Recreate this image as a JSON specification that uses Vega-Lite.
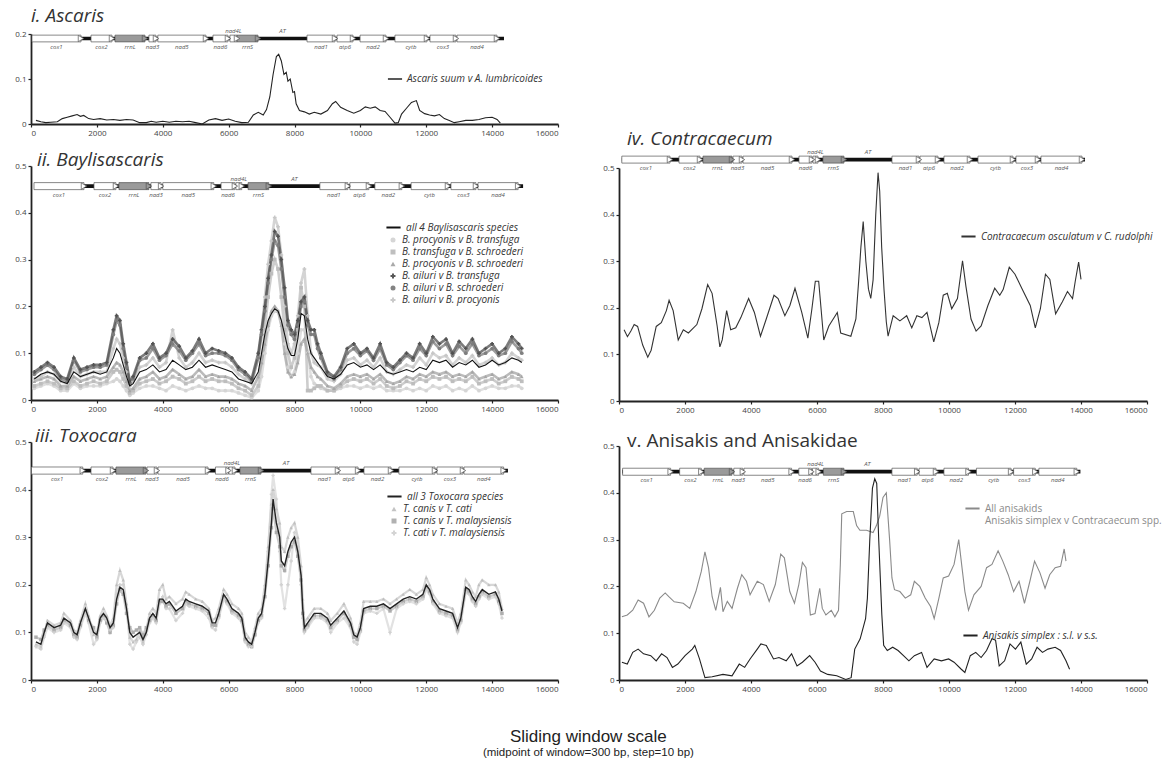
{
"$schema":"https://vega.github.io/schema/vega-lite/v6.json",
"background":"white",
"padding":{"left":14,"top":7,"right":5,"bottom":5},
"title":{"text":"Sliding window scale","subtitle":"(midpoint of window=300 bp, step=10 bp)","orient":"bottom","anchor":"middle","font":"Liberation Sans","fontSize":17,"fontStyle":"normal","fontWeight":"normal","color":"#222","subtitleFont":"Liberation Sans","subtitleFontSize":11.5,"subtitleColor":"#222","subtitlePadding":1,"offset":36,"frame":"bounds"},
"datasets":{
"gi":[{"g":"","s":30,"e":14360,"m":0,"t":"b"},{"g":"cox1","s":30,"e":1518,"m":774,"t":"p"},{"g":"cox2","s":1822,"e":2459,"m":2140,"t":"p"},{"g":"rrnL","s":2550,"e":3461,"m":3005,"t":"r"},{"g":"nad3","s":3580,"e":3795,"m":3690,"t":"p"},{"g":"nad5","s":3850,"e":5313,"m":4580,"t":"p"},{"g":"nad6","s":5525,"e":5980,"m":5750,"t":"p"},{"g":"nad4L","s":6040,"e":6254,"m":6147,"t":"p"},{"g":"rrnS","s":6254,"e":6892,"m":6573,"t":"r"},{"g":"AT","s":6892,"e":8380,"m":7636,"t":"a"},{"g":"nad1","s":8380,"e":9230,"m":8805,"t":"p"},{"g":"atp6","s":9290,"e":9776,"m":9533,"t":"p"},{"g":"nad2","s":9990,"e":10778,"m":10384,"t":"p"},{"g":"cytb","s":11050,"e":12022,"m":11536,"t":"p"},{"g":"cox3","s":12113,"e":12903,"m":12508,"t":"p"},{"g":"nad4","s":12933,"e":14147,"m":13540,"t":"p"}],
"gii":[{"g":"","s":91,"e":14940,"m":0,"t":"b"},{"g":"cox1","s":91,"e":1609,"m":850,"t":"p"},{"g":"cox2","s":1912,"e":2580,"m":2246,"t":"p"},{"g":"rrnL","s":2670,"e":3580,"m":3125,"t":"r"},{"g":"nad3","s":3640,"e":3950,"m":3795,"t":"p"},{"g":"nad5","s":4000,"e":5550,"m":4775,"t":"p"},{"g":"nad6","s":5770,"e":6190,"m":5980,"t":"p"},{"g":"nad4L","s":6220,"e":6400,"m":6310,"t":"p"},{"g":"rrnS","s":6590,"e":7220,"m":6905,"t":"r"},{"g":"AT","s":7220,"e":8770,"m":7995,"t":"a"},{"g":"nad1","s":8770,"e":9620,"m":9195,"t":"p"},{"g":"atp6","s":9680,"e":10260,"m":9970,"t":"p"},{"g":"nad2","s":10440,"e":11260,"m":10850,"t":"p"},{"g":"cytb","s":11540,"e":12660,"m":12100,"t":"p"},{"g":"cox3","s":12750,"e":13510,"m":13130,"t":"p"},{"g":"nad4","s":13570,"e":14790,"m":14180,"t":"p"}],
"giii":[{"g":"","s":15,"e":14480,"m":0,"t":"b"},{"g":"cox1","s":15,"e":1572,"m":793,"t":"p"},{"g":"cox2","s":1822,"e":2490,"m":2156,"t":"p"},{"g":"rrnL","s":2580,"e":3490,"m":3035,"t":"r"},{"g":"nad3","s":3520,"e":3825,"m":3672,"t":"p"},{"g":"nad5","s":3855,"e":5374,"m":4615,"t":"p"},{"g":"nad6","s":5600,"e":5996,"m":5798,"t":"p"},{"g":"nad4L","s":6010,"e":6193,"m":6100,"t":"p"},{"g":"rrnS","s":6345,"e":6983,"m":6664,"t":"r"},{"g":"AT","s":6983,"e":8500,"m":7740,"t":"a"},{"g":"nad1","s":8500,"e":9320,"m":8910,"t":"p"},{"g":"atp6","s":9350,"e":9930,"m":9640,"t":"p"},{"g":"nad2","s":10110,"e":10930,"m":10520,"t":"p"},{"g":"cytb","s":11170,"e":12265,"m":11718,"t":"p"},{"g":"cox3","s":12326,"e":13115,"m":12720,"t":"p"},{"g":"nad4","s":13145,"e":14350,"m":13748,"t":"p"}],
"giv":[{"g":"","s":85,"e":14120,"m":0,"t":"b"},{"g":"cox1","s":85,"e":1545,"m":815,"t":"p"},{"g":"cox2","s":1818,"e":2455,"m":2136,"t":"p"},{"g":"rrnL","s":2545,"e":3424,"m":2985,"t":"r"},{"g":"nad3","s":3454,"e":3727,"m":3590,"t":"p"},{"g":"nad5","s":3757,"e":5242,"m":4500,"t":"p"},{"g":"nad6","s":5454,"e":5848,"m":5651,"t":"p"},{"g":"nad4L","s":5878,"e":6030,"m":5954,"t":"p"},{"g":"rrnS","s":6181,"e":6817,"m":6499,"t":"r"},{"g":"AT","s":6817,"e":8272,"m":7545,"t":"a"},{"g":"nad1","s":8272,"e":9090,"m":8681,"t":"p"},{"g":"atp6","s":9120,"e":9666,"m":9393,"t":"p"},{"g":"nad2","s":9848,"e":10636,"m":10242,"t":"p"},{"g":"cytb","s":10878,"e":11938,"m":11408,"t":"p"},{"g":"cox3","s":12029,"e":12696,"m":12362,"t":"p"},{"g":"nad4","s":12787,"e":14030,"m":13408,"t":"p"}],
"gv":[{"g":"","s":91,"e":13982,"m":0,"t":"b"},{"g":"cox1","s":109,"e":1565,"m":837,"t":"p"},{"g":"cox2","s":1838,"e":2494,"m":2166,"t":"p"},{"g":"rrnL","s":2582,"e":3425,"m":3003,"t":"r"},{"g":"nad3","s":3479,"e":3753,"m":3616,"t":"p"},{"g":"nad5","s":3786,"e":5230,"m":4508,"t":"p"},{"g":"nad6","s":5449,"e":5832,"m":5640,"t":"p"},{"g":"nad4L","s":5864,"e":6050,"m":5957,"t":"p"},{"g":"rrnS","s":6193,"e":6816,"m":6504,"t":"r"},{"g":"AT","s":6816,"e":8239,"m":7527,"t":"a"},{"g":"nad1","s":8271,"e":9037,"m":8654,"t":"p"},{"g":"atp6","s":9092,"e":9606,"m":9349,"t":"p"},{"g":"nad2","s":9847,"e":10591,"m":10219,"t":"p"},{"g":"cytb","s":10831,"e":11882,"m":11356,"t":"p"},{"g":"cox3","s":11958,"e":12615,"m":12286,"t":"p"},{"g":"nad4","s":12724,"e":13873,"m":13298,"t":"p"}],
"asc":[{"x":150,"y":0.008},{"x":300,"y":0.005},{"x":450,"y":0.003},{"x":600,"y":0.004},{"x":800,"y":0.005},{"x":950,"y":0.012},{"x":1100,"y":0.015},{"x":1250,"y":0.018},{"x":1400,"y":0.021},{"x":1500,"y":0.017},{"x":1600,"y":0.019},{"x":1750,"y":0.012},{"x":1900,"y":0.01},{"x":2100,"y":0.012},{"x":2300,"y":0.009},{"x":2500,"y":0.01},{"x":2700,"y":0.008},{"x":2900,"y":0.01},{"x":3100,"y":0.009},{"x":3300,"y":0.003},{"x":3500,"y":0.003},{"x":3650,"y":0.006},{"x":3800,"y":0.004},{"x":4000,"y":0.006},{"x":4200,"y":0.004},{"x":4400,"y":0.006},{"x":4600,"y":0.005},{"x":4800,"y":0.006},{"x":5000,"y":0.003},{"x":5200,"y":0.0},{"x":5400,"y":0.009},{"x":5600,"y":0.012},{"x":5800,"y":0.008},{"x":6000,"y":0.011},{"x":6200,"y":0.006},{"x":6400,"y":0.003},{"x":6600,"y":0.004},{"x":6750,"y":0.02},{"x":6900,"y":0.026},{"x":7050,"y":0.02},{"x":7150,"y":0.032},{"x":7250,"y":0.06},{"x":7350,"y":0.11},{"x":7450,"y":0.15},{"x":7520,"y":0.155},{"x":7600,"y":0.14},{"x":7680,"y":0.11},{"x":7750,"y":0.115},{"x":7800,"y":0.095},{"x":7870,"y":0.1},{"x":7950,"y":0.07},{"x":8000,"y":0.072},{"x":8050,"y":0.045},{"x":8150,"y":0.03},{"x":8300,"y":0.027},{"x":8450,"y":0.022},{"x":8600,"y":0.026},{"x":8800,"y":0.022},{"x":9000,"y":0.03},{"x":9150,"y":0.045},{"x":9250,"y":0.05},{"x":9400,"y":0.037},{"x":9600,"y":0.03},{"x":9800,"y":0.024},{"x":10000,"y":0.03},{"x":10150,"y":0.038},{"x":10300,"y":0.035},{"x":10450,"y":0.038},{"x":10600,"y":0.03},{"x":10750,"y":0.028},{"x":10900,"y":0.015},{"x":11050,"y":0.002},{"x":11150,"y":0.003},{"x":11250,"y":0.022},{"x":11400,"y":0.035},{"x":11550,"y":0.048},{"x":11700,"y":0.052},{"x":11800,"y":0.03},{"x":11950,"y":0.023},{"x":12100,"y":0.02},{"x":12250,"y":0.018},{"x":12400,"y":0.021},{"x":12550,"y":0.012},{"x":12700,"y":0.008},{"x":12850,"y":0.003},{"x":13000,"y":0.005},{"x":13200,"y":0.008},{"x":13400,"y":0.008},{"x":13600,"y":0.01},{"x":13800,"y":0.014},{"x":14000,"y":0.015},{"x":14150,"y":0.01},{"x":14250,"y":0.002}],
"bay":[
{"x":100,"a":0.025,"b":0.03,"c":0.04,"d":0.06,"e":0.055,"f":0.045,"m":0.045},
{"x":300,"a":0.03,"b":0.035,"c":0.045,"d":0.07,"e":0.065,"f":0.05,"m":0.055},
{"x":500,"a":0.035,"b":0.04,"c":0.05,"d":0.08,"e":0.075,"f":0.06,"m":0.06},
{"x":700,"a":0.03,"b":0.035,"c":0.045,"d":0.07,"e":0.065,"f":0.055,"m":0.055},
{"x":900,"a":0.02,"b":0.025,"c":0.03,"d":0.05,"e":0.045,"f":0.04,"m":0.04},
{"x":1100,"a":0.02,"b":0.025,"c":0.03,"d":0.045,"e":0.04,"f":0.035,"m":0.035},
{"x":1300,"a":0.035,"b":0.04,"c":0.05,"d":0.09,"e":0.085,"f":0.07,"m":0.06},
{"x":1500,"a":0.025,"b":0.03,"c":0.04,"d":0.065,"e":0.06,"f":0.05,"m":0.05},
{"x":1700,"a":0.03,"b":0.035,"c":0.045,"d":0.07,"e":0.065,"f":0.055,"m":0.055},
{"x":1900,"a":0.03,"b":0.04,"c":0.05,"d":0.075,"e":0.07,"f":0.06,"m":0.06},
{"x":2100,"a":0.03,"b":0.035,"c":0.045,"d":0.075,"e":0.07,"f":0.06,"m":0.055},
{"x":2300,"a":0.035,"b":0.04,"c":0.05,"d":0.08,"e":0.075,"f":0.06,"m":0.06},
{"x":2500,"a":0.04,"b":0.06,"c":0.07,"d":0.15,"e":0.14,"f":0.11,"m":0.09},
{"x":2600,"a":0.045,"b":0.065,"c":0.08,"d":0.18,"e":0.17,"f":0.13,"m":0.11},
{"x":2700,"a":0.04,"b":0.06,"c":0.075,"d":0.17,"e":0.16,"f":0.12,"m":0.1},
{"x":2800,"a":0.03,"b":0.045,"c":0.06,"d":0.12,"e":0.11,"f":0.09,"m":0.075},
{"x":2900,"a":0.02,"b":0.03,"c":0.04,"d":0.08,"e":0.07,"f":0.06,"m":0.05},
{"x":3000,"a":0.01,"b":0.015,"c":0.02,"d":0.04,"e":0.035,"f":0.03,"m":0.03},
{"x":3100,"a":0.015,"b":0.02,"c":0.025,"d":0.05,"e":0.045,"f":0.04,"m":0.035},
{"x":3300,"a":0.025,"b":0.035,"c":0.045,"d":0.09,"e":0.085,"f":0.07,"m":0.06},
{"x":3500,"a":0.03,"b":0.04,"c":0.05,"d":0.1,"e":0.09,"f":0.075,"m":0.065},
{"x":3700,"a":0.03,"b":0.045,"c":0.06,"d":0.12,"e":0.11,"f":0.09,"m":0.075},
{"x":3900,"a":0.025,"b":0.035,"c":0.045,"d":0.09,"e":0.085,"f":0.07,"m":0.06},
{"x":4100,"a":0.02,"b":0.04,"c":0.05,"d":0.1,"e":0.095,"f":0.08,"m":0.065},
{"x":4300,"a":0.03,"b":0.05,"c":0.065,"d":0.13,"e":0.12,"f":0.15,"m":0.085},
{"x":4500,"a":0.025,"b":0.045,"c":0.055,"d":0.115,"e":0.105,"f":0.09,"m":0.075},
{"x":4700,"a":0.02,"b":0.035,"c":0.045,"d":0.09,"e":0.085,"f":0.07,"m":0.065},
{"x":4900,"a":0.025,"b":0.04,"c":0.05,"d":0.105,"e":0.1,"f":0.08,"m":0.07},
{"x":5100,"a":0.03,"b":0.05,"c":0.065,"d":0.13,"e":0.12,"f":0.1,"m":0.085},
{"x":5300,"a":0.025,"b":0.04,"c":0.05,"d":0.1,"e":0.095,"f":0.08,"m":0.07},
{"x":5500,"a":0.025,"b":0.045,"c":0.055,"d":0.11,"e":0.1,"f":0.085,"m":0.075},
{"x":5700,"a":0.02,"b":0.04,"c":0.05,"d":0.105,"e":0.1,"f":0.08,"m":0.07},
{"x":5900,"a":0.02,"b":0.04,"c":0.05,"d":0.1,"e":0.095,"f":0.08,"m":0.065},
{"x":6100,"a":0.02,"b":0.035,"c":0.045,"d":0.09,"e":0.085,"f":0.07,"m":0.06},
{"x":6300,"a":0.015,"b":0.025,"c":0.035,"d":0.07,"e":0.065,"f":0.055,"m":0.045},
{"x":6500,"a":0.01,"b":0.02,"c":0.03,"d":0.06,"e":0.055,"f":0.045,"m":0.04},
{"x":6700,"a":0.005,"b":0.01,"c":0.02,"d":0.045,"e":0.04,"f":0.035,"m":0.035},
{"x":6900,"a":0.02,"b":0.03,"c":0.05,"d":0.1,"e":0.09,"f":0.09,"m":0.06},
{"x":7000,"a":0.05,"b":0.08,"c":0.08,"d":0.15,"e":0.14,"f":0.15,"m":0.1},
{"x":7100,"a":0.1,"b":0.15,"c":0.12,"d":0.2,"e":0.19,"f":0.22,"m":0.14},
{"x":7200,"a":0.15,"b":0.22,"c":0.16,"d":0.26,"e":0.25,"f":0.29,"m":0.17},
{"x":7300,"a":0.18,"b":0.27,"c":0.19,"d":0.31,"e":0.3,"f":0.34,"m":0.185},
{"x":7400,"a":0.19,"b":0.3,"c":0.2,"d":0.36,"e":0.34,"f":0.39,"m":0.195},
{"x":7500,"a":0.19,"b":0.28,"c":0.19,"d":0.35,"e":0.33,"f":0.37,"m":0.19},
{"x":7600,"a":0.17,"b":0.22,"c":0.16,"d":0.3,"e":0.28,"f":0.31,"m":0.17},
{"x":7700,"a":0.12,"b":0.15,"c":0.1,"d":0.24,"e":0.22,"f":0.2,"m":0.14},
{"x":7800,"a":0.07,"b":0.1,"c":0.06,"d":0.17,"e":0.16,"f":0.12,"m":0.11},
{"x":7900,"a":0.05,"b":0.07,"c":0.05,"d":0.15,"e":0.14,"f":0.1,"m":0.095},
{"x":8000,"a":0.06,"b":0.09,"c":0.055,"d":0.14,"e":0.13,"f":0.12,"m":0.095},
{"x":8100,"a":0.1,"b":0.15,"c":0.08,"d":0.17,"e":0.16,"f":0.18,"m":0.13},
{"x":8200,"a":0.15,"b":0.24,"c":0.12,"d":0.21,"e":0.2,"f":0.25,"m":0.185},
{"x":8300,"a":0.15,"b":0.2,"c":0.13,"d":0.22,"e":0.21,"f":0.28,"m":0.18},
{"x":8400,"a":0.1,"b":0.02,"c":0.1,"d":0.17,"e":0.16,"f":0.18,"m":0.13},
{"x":8500,"a":0.05,"b":0.02,"c":0.07,"d":0.15,"e":0.14,"f":0.1,"m":0.1},
{"x":8600,"a":0.035,"b":0.025,"c":0.06,"d":0.15,"e":0.14,"f":0.08,"m":0.09},
{"x":8700,"a":0.03,"b":0.03,"c":0.05,"d":0.12,"e":0.11,"f":0.075,"m":0.08},
{"x":8800,"a":0.025,"b":0.03,"c":0.045,"d":0.1,"e":0.09,"f":0.07,"m":0.07},
{"x":9000,"a":0.02,"b":0.02,"c":0.03,"d":0.06,"e":0.055,"f":0.045,"m":0.05},
{"x":9200,"a":0.02,"b":0.02,"c":0.025,"d":0.05,"e":0.045,"f":0.04,"m":0.045},
{"x":9400,"a":0.025,"b":0.03,"c":0.035,"d":0.07,"e":0.065,"f":0.055,"m":0.055},
{"x":9600,"a":0.03,"b":0.04,"c":0.05,"d":0.11,"e":0.1,"f":0.085,"m":0.075},
{"x":9800,"a":0.03,"b":0.045,"c":0.055,"d":0.12,"e":0.11,"f":0.09,"m":0.08},
{"x":10000,"a":0.025,"b":0.04,"c":0.05,"d":0.1,"e":0.095,"f":0.075,"m":0.07},
{"x":10200,"a":0.03,"b":0.045,"c":0.055,"d":0.11,"e":0.105,"f":0.085,"m":0.075},
{"x":10400,"a":0.025,"b":0.035,"c":0.045,"d":0.09,"e":0.085,"f":0.07,"m":0.065},
{"x":10600,"a":0.03,"b":0.045,"c":0.055,"d":0.12,"e":0.11,"f":0.09,"m":0.075},
{"x":10800,"a":0.02,"b":0.03,"c":0.04,"d":0.08,"e":0.075,"f":0.06,"m":0.06},
{"x":11000,"a":0.02,"b":0.025,"c":0.035,"d":0.07,"e":0.065,"f":0.055,"m":0.055},
{"x":11200,"a":0.02,"b":0.03,"c":0.04,"d":0.085,"e":0.08,"f":0.065,"m":0.06},
{"x":11400,"a":0.025,"b":0.04,"c":0.05,"d":0.1,"e":0.095,"f":0.075,"m":0.065},
{"x":11600,"a":0.02,"b":0.035,"c":0.045,"d":0.09,"e":0.085,"f":0.07,"m":0.06},
{"x":11800,"a":0.025,"b":0.045,"c":0.055,"d":0.12,"e":0.11,"f":0.09,"m":0.07},
{"x":12000,"a":0.02,"b":0.04,"c":0.05,"d":0.1,"e":0.095,"f":0.075,"m":0.065},
{"x":12200,"a":0.03,"b":0.05,"c":0.06,"d":0.135,"e":0.125,"f":0.1,"m":0.085},
{"x":12400,"a":0.025,"b":0.045,"c":0.055,"d":0.12,"e":0.11,"f":0.09,"m":0.08},
{"x":12600,"a":0.03,"b":0.05,"c":0.06,"d":0.13,"e":0.12,"f":0.095,"m":0.085},
{"x":12800,"a":0.02,"b":0.04,"c":0.05,"d":0.1,"e":0.095,"f":0.075,"m":0.07},
{"x":13000,"a":0.025,"b":0.045,"c":0.055,"d":0.125,"e":0.115,"f":0.09,"m":0.08},
{"x":13200,"a":0.02,"b":0.04,"c":0.05,"d":0.11,"e":0.1,"f":0.08,"m":0.075},
{"x":13400,"a":0.03,"b":0.05,"c":0.06,"d":0.13,"e":0.12,"f":0.095,"m":0.085},
{"x":13600,"a":0.02,"b":0.035,"c":0.045,"d":0.1,"e":0.095,"f":0.075,"m":0.07},
{"x":13800,"a":0.025,"b":0.04,"c":0.05,"d":0.11,"e":0.1,"f":0.08,"m":0.075},
{"x":14000,"a":0.03,"b":0.045,"c":0.055,"d":0.12,"e":0.11,"f":0.09,"m":0.085},
{"x":14200,"a":0.025,"b":0.035,"c":0.045,"d":0.1,"e":0.095,"f":0.075,"m":0.075},
{"x":14400,"a":0.025,"b":0.04,"c":0.05,"d":0.11,"e":0.1,"f":0.08,"m":0.08},
{"x":14600,"a":0.03,"b":0.05,"c":0.06,"d":0.135,"e":0.125,"f":0.1,"m":0.09},
{"x":14800,"a":0.03,"b":0.045,"c":0.055,"d":0.12,"e":0.11,"f":0.09,"m":0.085},
{"x":14900,"a":0.025,"b":0.04,"c":0.05,"d":0.11,"e":0.1,"f":0.085,"m":0.08}],
"tox":[
{"x":150,"m":0.08,"p":0.075,"q":0.09,"r":0.07},{"x":300,"m":0.075,"p":0.07,"q":0.085,"r":0.065},{"x":400,"m":0.1,"p":0.095,"q":0.105,"r":0.09},{"x":500,"m":0.12,"p":0.125,"q":0.115,"r":0.11},{"x":700,"m":0.11,"p":0.115,"q":0.105,"r":0.1},{"x":900,"m":0.115,"p":0.12,"q":0.11,"r":0.105},{"x":1000,"m":0.13,"p":0.14,"q":0.125,"r":0.12},{"x":1200,"m":0.12,"p":0.125,"q":0.115,"r":0.11},{"x":1300,"m":0.1,"p":0.105,"q":0.095,"r":0.09},{"x":1400,"m":0.095,"p":0.1,"q":0.09,"r":0.085},{"x":1500,"m":0.12,"p":0.125,"q":0.115,"r":0.11},{"x":1650,"m":0.15,"p":0.16,"q":0.145,"r":0.14},{"x":1750,"m":0.13,"p":0.135,"q":0.125,"r":0.12},{"x":1900,"m":0.1,"p":0.095,"q":0.11,"r":0.075},{"x":2000,"m":0.095,"p":0.1,"q":0.09,"r":0.085},{"x":2100,"m":0.13,"p":0.135,"q":0.125,"r":0.12},{"x":2200,"m":0.14,"p":0.15,"q":0.135,"r":0.13},{"x":2300,"m":0.13,"p":0.135,"q":0.12,"r":0.125},{"x":2400,"m":0.11,"p":0.115,"q":0.1,"r":0.105},{"x":2500,"m":0.12,"p":0.13,"q":0.115,"r":0.11},{"x":2600,"m":0.17,"p":0.2,"q":0.16,"r":0.18},{"x":2700,"m":0.195,"p":0.23,"q":0.19,"r":0.2},{"x":2800,"m":0.19,"p":0.21,"q":0.18,"r":0.2},{"x":2900,"m":0.15,"p":0.16,"q":0.14,"r":0.15},{"x":3000,"m":0.1,"p":0.09,"q":0.11,"r":0.075},{"x":3100,"m":0.09,"p":0.08,"q":0.1,"r":0.065},{"x":3200,"m":0.095,"p":0.085,"q":0.105,"r":0.08},{"x":3300,"m":0.1,"p":0.105,"q":0.11,"r":0.09},{"x":3400,"m":0.085,"p":0.08,"q":0.095,"r":0.075},{"x":3500,"m":0.1,"p":0.105,"q":0.11,"r":0.095},{"x":3600,"m":0.13,"p":0.14,"q":0.125,"r":0.12},{"x":3700,"m":0.14,"p":0.15,"q":0.135,"r":0.13},{"x":3800,"m":0.13,"p":0.14,"q":0.125,"r":0.12},{"x":3900,"m":0.17,"p":0.19,"q":0.165,"r":0.16},{"x":4000,"m":0.17,"p":0.2,"q":0.165,"r":0.175},{"x":4100,"m":0.16,"p":0.17,"q":0.155,"r":0.15},{"x":4200,"m":0.165,"p":0.175,"q":0.16,"r":0.15},{"x":4400,"m":0.145,"p":0.16,"q":0.14,"r":0.125},{"x":4600,"m":0.155,"p":0.17,"q":0.15,"r":0.14},{"x":4700,"m":0.17,"p":0.185,"q":0.165,"r":0.16},{"x":4800,"m":0.165,"p":0.18,"q":0.16,"r":0.155},{"x":5000,"m":0.16,"p":0.17,"q":0.155,"r":0.15},{"x":5200,"m":0.155,"p":0.165,"q":0.15,"r":0.145},{"x":5400,"m":0.145,"p":0.15,"q":0.14,"r":0.13},{"x":5500,"m":0.12,"p":0.125,"q":0.115,"r":0.11},{"x":5600,"m":0.12,"p":0.13,"q":0.115,"r":0.105},{"x":5700,"m":0.14,"p":0.15,"q":0.135,"r":0.13},{"x":5850,"m":0.18,"p":0.19,"q":0.175,"r":0.17},{"x":5950,"m":0.17,"p":0.18,"q":0.165,"r":0.16},{"x":6100,"m":0.15,"p":0.16,"q":0.145,"r":0.14},{"x":6300,"m":0.14,"p":0.15,"q":0.135,"r":0.13},{"x":6400,"m":0.13,"p":0.14,"q":0.125,"r":0.12},{"x":6500,"m":0.09,"p":0.1,"q":0.085,"r":0.08},{"x":6600,"m":0.08,"p":0.09,"q":0.075,"r":0.07},{"x":6700,"m":0.075,"p":0.08,"q":0.07,"r":0.07},{"x":6800,"m":0.1,"p":0.11,"q":0.095,"r":0.1},{"x":6900,"m":0.13,"p":0.14,"q":0.125,"r":0.12},{"x":7000,"m":0.14,"p":0.15,"q":0.135,"r":0.13},{"x":7100,"m":0.18,"p":0.2,"q":0.175,"r":0.19},{"x":7200,"m":0.25,"p":0.28,"q":0.24,"r":0.27},{"x":7300,"m":0.33,"p":0.37,"q":0.32,"r":0.39},{"x":7350,"m":0.38,"p":0.4,"q":0.36,"r":0.43},{"x":7450,"m":0.33,"p":0.36,"q":0.31,"r":0.38},{"x":7550,"m":0.3,"p":0.33,"q":0.28,"r":0.27},{"x":7600,"m":0.25,"p":0.28,"q":0.24,"r":0.2},{"x":7700,"m":0.24,"p":0.27,"q":0.23,"r":0.15},{"x":7800,"m":0.27,"p":0.3,"q":0.26,"r":0.2},{"x":7900,"m":0.29,"p":0.32,"q":0.28,"r":0.25},{"x":8000,"m":0.3,"p":0.33,"q":0.29,"r":0.31},{"x":8100,"m":0.27,"p":0.3,"q":0.26,"r":0.28},{"x":8200,"m":0.22,"p":0.24,"q":0.21,"r":0.2},{"x":8250,"m":0.15,"p":0.17,"q":0.14,"r":0.13},{"x":8300,"m":0.11,"p":0.12,"q":0.105,"r":0.1},{"x":8400,"m":0.12,"p":0.13,"q":0.115,"r":0.11},{"x":8600,"m":0.14,"p":0.15,"q":0.135,"r":0.13},{"x":8800,"m":0.14,"p":0.15,"q":0.135,"r":0.13},{"x":9000,"m":0.13,"p":0.14,"q":0.125,"r":0.12},{"x":9100,"m":0.115,"p":0.125,"q":0.11,"r":0.1},{"x":9300,"m":0.13,"p":0.14,"q":0.125,"r":0.12},{"x":9500,"m":0.145,"p":0.16,"q":0.14,"r":0.13},{"x":9700,"m":0.12,"p":0.13,"q":0.115,"r":0.11},{"x":9800,"m":0.095,"p":0.1,"q":0.09,"r":0.08},{"x":9900,"m":0.09,"p":0.095,"q":0.085,"r":0.075},{"x":10000,"m":0.11,"p":0.12,"q":0.105,"r":0.1},{"x":10100,"m":0.15,"p":0.165,"q":0.145,"r":0.14},{"x":10300,"m":0.155,"p":0.165,"q":0.15,"r":0.145},{"x":10500,"m":0.155,"p":0.165,"q":0.15,"r":0.14},{"x":10700,"m":0.16,"p":0.17,"q":0.155,"r":0.15},{"x":10900,"m":0.15,"p":0.16,"q":0.145,"r":0.1},{"x":11100,"m":0.16,"p":0.17,"q":0.155,"r":0.15},{"x":11300,"m":0.17,"p":0.18,"q":0.165,"r":0.16},{"x":11500,"m":0.175,"p":0.19,"q":0.17,"r":0.165},{"x":11700,"m":0.17,"p":0.18,"q":0.165,"r":0.16},{"x":11900,"m":0.18,"p":0.19,"q":0.175,"r":0.17},{"x":12000,"m":0.2,"p":0.215,"q":0.195,"r":0.19},{"x":12100,"m":0.19,"p":0.2,"q":0.185,"r":0.18},{"x":12200,"m":0.17,"p":0.18,"q":0.165,"r":0.16},{"x":12400,"m":0.15,"p":0.16,"q":0.145,"r":0.14},{"x":12600,"m":0.145,"p":0.155,"q":0.14,"r":0.135},{"x":12800,"m":0.14,"p":0.15,"q":0.135,"r":0.13},{"x":12950,"m":0.11,"p":0.12,"q":0.105,"r":0.1},{"x":13050,"m":0.13,"p":0.14,"q":0.125,"r":0.12},{"x":13200,"m":0.195,"p":0.21,"q":0.19,"r":0.185},{"x":13300,"m":0.19,"p":0.2,"q":0.185,"r":0.18},{"x":13400,"m":0.175,"p":0.185,"q":0.17,"r":0.165},{"x":13500,"m":0.165,"p":0.175,"q":0.16,"r":0.155},{"x":13600,"m":0.18,"p":0.2,"q":0.175,"r":0.17},{"x":13700,"m":0.19,"p":0.21,"q":0.185,"r":0.18},{"x":13900,"m":0.18,"p":0.2,"q":0.175,"r":0.17},{"x":14100,"m":0.185,"p":0.2,"q":0.18,"r":0.175},{"x":14200,"m":0.17,"p":0.185,"q":0.165,"r":0.16},{"x":14300,"m":0.145,"p":0.15,"q":0.14,"r":0.13}],
"con":[{"x":154,"y":0.153},{"x":256,"y":0.138},{"x":360,"y":0.15},{"x":460,"y":0.164},{"x":564,"y":0.16},{"x":718,"y":0.12},{"x":872,"y":0.094},{"x":974,"y":0.109},{"x":1128,"y":0.16},{"x":1282,"y":0.168},{"x":1436,"y":0.194},{"x":1518,"y":0.216},{"x":1641,"y":0.194},{"x":1795,"y":0.131},{"x":1949,"y":0.153},{"x":2103,"y":0.146},{"x":2359,"y":0.164},{"x":2513,"y":0.198},{"x":2687,"y":0.25},{"x":2821,"y":0.231},{"x":2974,"y":0.161},{"x":3056,"y":0.116},{"x":3128,"y":0.131},{"x":3262,"y":0.194},{"x":3385,"y":0.153},{"x":3538,"y":0.157},{"x":3692,"y":0.179},{"x":3928,"y":0.22},{"x":4103,"y":0.19},{"x":4287,"y":0.139},{"x":4462,"y":0.176},{"x":4697,"y":0.227},{"x":4821,"y":0.22},{"x":5026,"y":0.183},{"x":5179,"y":0.205},{"x":5333,"y":0.242},{"x":5538,"y":0.19},{"x":5723,"y":0.135},{"x":5846,"y":0.198},{"x":5949,"y":0.257},{"x":6051,"y":0.257},{"x":6205,"y":0.131},{"x":6359,"y":0.161},{"x":6615,"y":0.19},{"x":6718,"y":0.146},{"x":7026,"y":0.139},{"x":7179,"y":0.176},{"x":7262,"y":0.257},{"x":7330,"y":0.33},{"x":7400,"y":0.385},{"x":7480,"y":0.3},{"x":7560,"y":0.24},{"x":7630,"y":0.22},{"x":7700,"y":0.26},{"x":7780,"y":0.4},{"x":7850,"y":0.49},{"x":7900,"y":0.45},{"x":7960,"y":0.33},{"x":8030,"y":0.24},{"x":8100,"y":0.17},{"x":8154,"y":0.139},{"x":8308,"y":0.183},{"x":8513,"y":0.172},{"x":8718,"y":0.183},{"x":8872,"y":0.157},{"x":9026,"y":0.183},{"x":9179,"y":0.179},{"x":9333,"y":0.19},{"x":9538,"y":0.127},{"x":9692,"y":0.168},{"x":9826,"y":0.227},{"x":9949,"y":0.231},{"x":10082,"y":0.198},{"x":10256,"y":0.22},{"x":10410,"y":0.301},{"x":10513,"y":0.246},{"x":10667,"y":0.176},{"x":10821,"y":0.15},{"x":10974,"y":0.161},{"x":11179,"y":0.205},{"x":11385,"y":0.242},{"x":11538,"y":0.227},{"x":11641,"y":0.239},{"x":11826,"y":0.287},{"x":12000,"y":0.272},{"x":12205,"y":0.242},{"x":12462,"y":0.205},{"x":12615,"y":0.157},{"x":12769,"y":0.198},{"x":12923,"y":0.272},{"x":13056,"y":0.261},{"x":13231,"y":0.187},{"x":13436,"y":0.213},{"x":13590,"y":0.235},{"x":13744,"y":0.22},{"x":13826,"y":0.257},{"x":13928,"y":0.298},{"x":14000,"y":0.261}],
"anig":[{"x":88,"y":0.135},{"x":251,"y":0.139},{"x":416,"y":0.149},{"x":580,"y":0.171},{"x":744,"y":0.164},{"x":908,"y":0.135},{"x":1072,"y":0.149},{"x":1236,"y":0.175},{"x":1400,"y":0.186},{"x":1510,"y":0.178},{"x":1674,"y":0.167},{"x":1947,"y":0.164},{"x":2144,"y":0.153},{"x":2330,"y":0.189},{"x":2494,"y":0.232},{"x":2604,"y":0.274},{"x":2713,"y":0.24},{"x":2823,"y":0.178},{"x":2932,"y":0.149},{"x":3074,"y":0.198},{"x":3151,"y":0.146},{"x":3282,"y":0.168},{"x":3425,"y":0.153},{"x":3589,"y":0.196},{"x":3720,"y":0.225},{"x":3862,"y":0.211},{"x":3972,"y":0.182},{"x":4190,"y":0.211},{"x":4376,"y":0.204},{"x":4551,"y":0.168},{"x":4737,"y":0.204},{"x":4901,"y":0.269},{"x":5011,"y":0.261},{"x":5175,"y":0.189},{"x":5317,"y":0.164},{"x":5449,"y":0.204},{"x":5558,"y":0.251},{"x":5667,"y":0.24},{"x":5799,"y":0.139},{"x":5941,"y":0.142},{"x":6018,"y":0.171},{"x":6083,"y":0.196},{"x":6160,"y":0.153},{"x":6269,"y":0.139},{"x":6433,"y":0.149},{"x":6542,"y":0.135},{"x":6652,"y":0.149},{"x":6707,"y":0.247},{"x":6750,"y":0.355},{"x":6900,"y":0.36},{"x":7100,"y":0.36},{"x":7200,"y":0.33},{"x":7300,"y":0.32},{"x":7500,"y":0.32},{"x":7700,"y":0.315},{"x":7800,"y":0.33},{"x":7900,"y":0.35},{"x":8000,"y":0.39},{"x":8100,"y":0.4},{"x":8200,"y":0.3},{"x":8271,"y":0.218},{"x":8348,"y":0.193},{"x":8512,"y":0.189},{"x":8676,"y":0.175},{"x":8840,"y":0.182},{"x":8950,"y":0.211},{"x":9114,"y":0.2},{"x":9278,"y":0.175},{"x":9442,"y":0.157},{"x":9551,"y":0.131},{"x":9694,"y":0.175},{"x":9825,"y":0.218},{"x":9989,"y":0.222},{"x":10153,"y":0.247},{"x":10295,"y":0.3},{"x":10394,"y":0.24},{"x":10481,"y":0.189},{"x":10591,"y":0.149},{"x":10755,"y":0.182},{"x":10974,"y":0.2},{"x":11138,"y":0.24},{"x":11302,"y":0.247},{"x":11488,"y":0.276},{"x":11630,"y":0.254},{"x":11794,"y":0.225},{"x":11958,"y":0.189},{"x":12123,"y":0.211},{"x":12287,"y":0.164},{"x":12451,"y":0.211},{"x":12593,"y":0.254},{"x":12757,"y":0.229},{"x":12910,"y":0.196},{"x":13052,"y":0.225},{"x":13217,"y":0.24},{"x":13381,"y":0.243},{"x":13490,"y":0.28},{"x":13545,"y":0.254}],
"anik":[{"x":88,"y":0.038},{"x":251,"y":0.034},{"x":416,"y":0.059},{"x":580,"y":0.066},{"x":744,"y":0.056},{"x":963,"y":0.052},{"x":1127,"y":0.041},{"x":1291,"y":0.056},{"x":1455,"y":0.048},{"x":1619,"y":0.027},{"x":1783,"y":0.034},{"x":2002,"y":0.052},{"x":2221,"y":0.066},{"x":2297,"y":0.074},{"x":2439,"y":0.045},{"x":2604,"y":0.005},{"x":2823,"y":0.007},{"x":3151,"y":0.012},{"x":3425,"y":0.009},{"x":3644,"y":0.034},{"x":3808,"y":0.027},{"x":3972,"y":0.045},{"x":4190,"y":0.066},{"x":4300,"y":0.077},{"x":4464,"y":0.074},{"x":4683,"y":0.045},{"x":4847,"y":0.048},{"x":5066,"y":0.041},{"x":5230,"y":0.056},{"x":5394,"y":0.03},{"x":5558,"y":0.038},{"x":5777,"y":0.052},{"x":5941,"y":0.038},{"x":6105,"y":0.019},{"x":6324,"y":0.012},{"x":6598,"y":0.009},{"x":6871,"y":0.001},{"x":7035,"y":0.005},{"x":7144,"y":0.066},{"x":7308,"y":0.088},{"x":7472,"y":0.131},{"x":7527,"y":0.175},{"x":7600,"y":0.3},{"x":7680,"y":0.41},{"x":7750,"y":0.43},{"x":7810,"y":0.42},{"x":7870,"y":0.3},{"x":7965,"y":0.139},{"x":8020,"y":0.074},{"x":8130,"y":0.063},{"x":8294,"y":0.07},{"x":8457,"y":0.063},{"x":8621,"y":0.052},{"x":8785,"y":0.041},{"x":8950,"y":0.052},{"x":9169,"y":0.059},{"x":9333,"y":0.027},{"x":9551,"y":0.045},{"x":9770,"y":0.041},{"x":9989,"y":0.045},{"x":10153,"y":0.038},{"x":10372,"y":0.023},{"x":10481,"y":0.016},{"x":10645,"y":0.052},{"x":10810,"y":0.059},{"x":10974,"y":0.048},{"x":11138,"y":0.063},{"x":11302,"y":0.088},{"x":11411,"y":0.085},{"x":11521,"y":0.03},{"x":11685,"y":0.041},{"x":11849,"y":0.077},{"x":12013,"y":0.066},{"x":12177,"y":0.081},{"x":12341,"y":0.034},{"x":12505,"y":0.045},{"x":12669,"y":0.07},{"x":12833,"y":0.059},{"x":12998,"y":0.066},{"x":13217,"y":0.07},{"x":13381,"y":0.063},{"x":13545,"y":0.041},{"x":13654,"y":0.023}],
"none":[]
},
"resolve":{"scale":{"color":"independent","shape":"independent"},"legend":{"color":"independent","shape":"independent"}},
"spacing":43,
"hconcat":[
{"vconcat":[
{"width":527,"height":90,
 "title":{"text":"i. Ascaris","fontStyle":"italic","offset":2},
 "layer":[
  {"data":{"name":"gi"},"transform":[{"filter":"datum.t=='b'"}],"mark":{"type":"rect","color":"#111"},"encoding":{"x":{"field":"s","type":"quantitative","title":null,"scale":{"domain":[0,16000]}},"x2":{"field":"e"},"y":{"datum":0.186,"type":"quantitative","scale":{"domain":[0,0.2],"nice":false}},"y2":{"datum":0.194}}},
  {"data":{"name":"gi"},"transform":[{"filter":"datum.t=='p'||datum.t=='r'"}],"mark":{"type":"rect","stroke":"#555","strokeWidth":0.7},"encoding":{"x":{"field":"s","type":"quantitative","title":null,"scale":{"domain":[0,16000]}},"x2":{"field":"e"},"y":{"datum":0.1825,"type":"quantitative","scale":{"domain":[0,0.2],"nice":false}},"y2":{"datum":0.1975},"fill":{"condition":{"test":"datum.t=='r'","value":"#9a9a9a"},"value":"#ffffff"}}},
  {"data":{"name":"gi"},"transform":[{"filter":"datum.t=='p'||datum.t=='r'"}],"mark":{"type":"point","shape":"triangle-right","size":40,"filled":true,"stroke":"#555","strokeWidth":0.7,"opacity":1},"encoding":{"x":{"field":"e","type":"quantitative","title":null,"scale":{"domain":[0,16000]}},"y":{"datum":0.19,"type":"quantitative","scale":{"domain":[0,0.2],"nice":false}},"fill":{"condition":{"test":"datum.t=='r'","value":"#9a9a9a"},"value":"#ffffff"}}},
  {"data":{"name":"gi"},"transform":[{"filter":"datum.t!='b'&&datum.t!='a'&&datum.g!='nad4L'"}],"mark":{"type":"text","font":"Open Sans","fontSize":6,"fontStyle":"italic","color":"#555","baseline":"top"},"encoding":{"x":{"field":"m","type":"quantitative","title":null,"scale":{"domain":[0,16000]}},"y":{"datum":0.178,"type":"quantitative","scale":{"domain":[0,0.2],"nice":false}},"text":{"field":"g"}}},
  {"data":{"name":"gi"},"transform":[{"filter":"datum.t=='a'||datum.g=='nad4L'"}],"mark":{"type":"text","font":"Open Sans","fontSize":6,"fontStyle":"italic","color":"#555","baseline":"bottom"},"encoding":{"x":{"field":"m","type":"quantitative","title":null,"scale":{"domain":[0,16000]}},"y":{"datum":0.1995,"type":"quantitative","scale":{"domain":[0,0.2],"nice":false}},"text":{"field":"g"}}},
  {"data":{"name":"asc"},"mark":{"type":"line","strokeWidth":1.1},"encoding":{"x":{"field":"x","type":"quantitative","title":null,"scale":{"domain":[0,16000]},"axis":{"values":[0,2000,4000,6000,8000,10000,12000,14000,16000],"format":"d"}},"y":{"field":"y","type":"quantitative","title":null,"scale":{"domain":[0,0.2],"nice":false},"axis":{"values":[0,0.1,0.2],"format":"~g"}},"color":{"datum":"Ascaris suum v A. lumbricoides","type":"nominal","scale":{"range":["#222222"]},"legend":{"orient":"none","legendX":356,"legendY":37,"title":null,"symbolType":"stroke","symbolSize":200}}}}
 ]
},
{"width":527,"height":234,
 "title":{"text":"ii. Baylisascaris","fontStyle":"italic","dx":6,"offset":-8},
 "resolve":{"scale":{"color":"independent","shape":"independent"}},
 "layer":[
  {"data":{"name":"gii"},"transform":[{"filter":"datum.t=='b'"}],"mark":{"type":"rect","color":"#111"},"encoding":{"x":{"field":"s","type":"quantitative","title":null,"scale":{"domain":[0,16000]}},"x2":{"field":"e"},"y":{"datum":0.453,"type":"quantitative","scale":{"domain":[0,0.5],"nice":false}},"y2":{"datum":0.461}}},
  {"data":{"name":"gii"},"transform":[{"filter":"datum.t=='p'||datum.t=='r'"}],"mark":{"type":"rect","stroke":"#555","strokeWidth":0.7},"encoding":{"x":{"field":"s","type":"quantitative","title":null,"scale":{"domain":[0,16000]}},"x2":{"field":"e"},"y":{"datum":0.4495,"type":"quantitative","scale":{"domain":[0,0.5],"nice":false}},"y2":{"datum":0.4645},"fill":{"condition":{"test":"datum.t=='r'","value":"#9a9a9a"},"value":"#ffffff"}}},
  {"data":{"name":"gii"},"transform":[{"filter":"datum.t=='p'||datum.t=='r'"}],"mark":{"type":"point","shape":"triangle-right","size":40,"filled":true,"stroke":"#555","strokeWidth":0.7,"opacity":1},"encoding":{"x":{"field":"e","type":"quantitative","title":null,"scale":{"domain":[0,16000]}},"y":{"datum":0.457,"type":"quantitative","scale":{"domain":[0,0.5],"nice":false}},"fill":{"condition":{"test":"datum.t=='r'","value":"#9a9a9a"},"value":"#ffffff"}}},
  {"data":{"name":"gii"},"transform":[{"filter":"datum.t!='b'&&datum.t!='a'&&datum.g!='nad4L'"}],"mark":{"type":"text","font":"Open Sans","fontSize":6,"fontStyle":"italic","color":"#555","baseline":"top"},"encoding":{"x":{"field":"m","type":"quantitative","title":null,"scale":{"domain":[0,16000]}},"y":{"datum":0.445,"type":"quantitative","scale":{"domain":[0,0.5],"nice":false}},"text":{"field":"g"}}},
  {"data":{"name":"gii"},"transform":[{"filter":"datum.t=='a'||datum.g=='nad4L'"}],"mark":{"type":"text","font":"Open Sans","fontSize":6,"fontStyle":"italic","color":"#555","baseline":"bottom"},"encoding":{"x":{"field":"m","type":"quantitative","title":null,"scale":{"domain":[0,16000]}},"y":{"datum":0.4665,"type":"quantitative","scale":{"domain":[0,0.5],"nice":false}},"text":{"field":"g"}}},
  {"data":{"name":"bay"},"transform":[{"fold":["a","b","c","f","e","d"],"as":["k","v"]}],"mark":{"type":"line","strokeWidth":2.6,"opacity":0.75},"encoding":{"x":{"field":"x","type":"quantitative","title":null,"scale":{"domain":[0,16000]}},"y":{"field":"v","type":"quantitative","title":null,"scale":{"domain":[0,0.5],"nice":false}},"color":{"field":"k","type":"nominal","scale":{"domain":["a","b","c","d","e","f"],"range":["#d4d4d4","#bcbcbc","#a4a4a4","#505050","#7c7c7c","#c6c6c6"]},"legend":null}}},
  {"data":{"name":"bay"},"transform":[{"fold":["a","b","c","f","e","d"],"as":["k","v"]}],"mark":{"type":"point","filled":true,"size":14,"opacity":0.95},"encoding":{"x":{"field":"x","type":"quantitative","title":null,"scale":{"domain":[0,16000]}},"y":{"field":"v","type":"quantitative","title":null,"scale":{"domain":[0,0.5],"nice":false}},
    "color":{"field":"k","type":"nominal","scale":{"domain":["a","b","c","d","e","f"],"range":["#d4d4d4","#bcbcbc","#a4a4a4","#505050","#7c7c7c","#c6c6c6"]},"legend":{"orient":"none","legendX":357,"legendY":69,"title":null,"symbolSize":25,"rowPadding":2,"labelExpr":"{'a':'B. procyonis v B. transfuga','b':'B. transfuga v B. schroederi','c':'B. procyonis v B. schroederi','d':'B. ailuri v B. transfuga','e':'B. ailuri v B. schroederi','f':'B. ailuri v B. procyonis'}[datum.label]"}},
    "shape":{"field":"k","type":"nominal","scale":{"domain":["a","b","c","d","e","f"],"range":["circle","square","triangle-up","cross","circle","cross"]},"legend":{"orient":"none","legendX":357,"legendY":69,"title":null,"symbolSize":25,"rowPadding":2,"labelExpr":"{'a':'B. procyonis v B. transfuga','b':'B. transfuga v B. schroederi','c':'B. procyonis v B. schroederi','d':'B. ailuri v B. transfuga','e':'B. ailuri v B. schroederi','f':'B. ailuri v B. procyonis'}[datum.label]"}}}},
  {"data":{"name":"bay"},"mark":{"type":"line","strokeWidth":1.1},"encoding":{"x":{"field":"x","type":"quantitative","title":null,"scale":{"domain":[0,16000]},"axis":{"values":[0,2000,4000,6000,8000,10000,12000,14000,16000],"format":"d"}},"y":{"field":"m","type":"quantitative","title":null,"scale":{"domain":[0,0.5],"nice":false},"axis":{"values":[0,0.1,0.2,0.3,0.4,0.5],"format":"~g"}},"color":{"datum":"all 4 Baylisascaris species","type":"nominal","scale":{"range":["#111111"]},"legend":{"orient":"none","legendX":354,"legendY":53,"title":null,"symbolType":"stroke","symbolSize":200,"symbolStrokeWidth":2}}}}
 ]
},
{"width":527,"height":238,
 "title":{"text":"iii. Toxocara","fontStyle":"italic","dx":4,"offset":-8},
 "resolve":{"scale":{"color":"independent","shape":"independent"}},
 "layer":[
  {"data":{"name":"giii"},"transform":[{"filter":"datum.t=='b'"}],"mark":{"type":"rect","color":"#111"},"encoding":{"x":{"field":"s","type":"quantitative","title":null,"scale":{"domain":[0,16000]}},"x2":{"field":"e"},"y":{"datum":0.436,"type":"quantitative","scale":{"domain":[0,0.5],"nice":false}},"y2":{"datum":0.444}}},
  {"data":{"name":"giii"},"transform":[{"filter":"datum.t=='p'||datum.t=='r'"}],"mark":{"type":"rect","stroke":"#555","strokeWidth":0.7},"encoding":{"x":{"field":"s","type":"quantitative","title":null,"scale":{"domain":[0,16000]}},"x2":{"field":"e"},"y":{"datum":0.4325,"type":"quantitative","scale":{"domain":[0,0.5],"nice":false}},"y2":{"datum":0.4475},"fill":{"condition":{"test":"datum.t=='r'","value":"#9a9a9a"},"value":"#ffffff"}}},
  {"data":{"name":"giii"},"transform":[{"filter":"datum.t=='p'||datum.t=='r'"}],"mark":{"type":"point","shape":"triangle-right","size":40,"filled":true,"stroke":"#555","strokeWidth":0.7,"opacity":1},"encoding":{"x":{"field":"e","type":"quantitative","title":null,"scale":{"domain":[0,16000]}},"y":{"datum":0.44,"type":"quantitative","scale":{"domain":[0,0.5],"nice":false}},"fill":{"condition":{"test":"datum.t=='r'","value":"#9a9a9a"},"value":"#ffffff"}}},
  {"data":{"name":"giii"},"transform":[{"filter":"datum.t!='b'&&datum.t!='a'&&datum.g!='nad4L'"}],"mark":{"type":"text","font":"Open Sans","fontSize":6,"fontStyle":"italic","color":"#555","baseline":"top"},"encoding":{"x":{"field":"m","type":"quantitative","title":null,"scale":{"domain":[0,16000]}},"y":{"datum":0.428,"type":"quantitative","scale":{"domain":[0,0.5],"nice":false}},"text":{"field":"g"}}},
  {"data":{"name":"giii"},"transform":[{"filter":"datum.t=='a'||datum.g=='nad4L'"}],"mark":{"type":"text","font":"Open Sans","fontSize":6,"fontStyle":"italic","color":"#555","baseline":"bottom"},"encoding":{"x":{"field":"m","type":"quantitative","title":null,"scale":{"domain":[0,16000]}},"y":{"datum":0.4495,"type":"quantitative","scale":{"domain":[0,0.5],"nice":false}},"text":{"field":"g"}}},
  {"data":{"name":"tox"},"transform":[{"fold":["q","p","r"],"as":["k","v"]}],"mark":{"type":"line","strokeWidth":2.2,"opacity":0.6},"encoding":{"x":{"field":"x","type":"quantitative","title":null,"scale":{"domain":[0,16000]}},"y":{"field":"v","type":"quantitative","title":null,"scale":{"domain":[0,0.5],"nice":false}},"color":{"field":"k","type":"nominal","scale":{"domain":["p","q","r"],"range":["#bdbdbd","#a8a8a8","#cfcfcf"]},"legend":null}}},
  {"data":{"name":"tox"},"transform":[{"fold":["q","p","r"],"as":["k","v"]}],"mark":{"type":"point","filled":true,"size":12,"opacity":0.9},"encoding":{"x":{"field":"x","type":"quantitative","title":null,"scale":{"domain":[0,16000]}},"y":{"field":"v","type":"quantitative","title":null,"scale":{"domain":[0,0.5],"nice":false}},
    "color":{"field":"k","type":"nominal","scale":{"domain":["p","q","r"],"range":["#bdbdbd","#a8a8a8","#cfcfcf"]},"legend":{"orient":"none","legendX":358,"legendY":62,"title":null,"symbolSize":25,"rowPadding":2,"labelExpr":"{'p':'T. canis v T. cati','q':'T. canis v T. malaysiensis','r':'T. cati v T. malaysiensis'}[datum.label]"}},
    "shape":{"field":"k","type":"nominal","scale":{"domain":["p","q","r"],"range":["triangle-up","square","cross"]},"legend":{"orient":"none","legendX":358,"legendY":62,"title":null,"symbolSize":25,"rowPadding":2,"labelExpr":"{'p':'T. canis v T. cati','q':'T. canis v T. malaysiensis','r':'T. cati v T. malaysiensis'}[datum.label]"}}}},
  {"data":{"name":"tox"},"mark":{"type":"line","strokeWidth":1.4},"encoding":{"x":{"field":"x","type":"quantitative","title":null,"scale":{"domain":[0,16000]},"axis":{"values":[0,2000,4000,6000,8000,10000,12000,14000,16000],"format":"d"}},"y":{"field":"m","type":"quantitative","title":null,"scale":{"domain":[0,0.5],"nice":false},"axis":{"values":[0,0.1,0.2,0.3,0.4,0.5],"format":"~g"}},"color":{"datum":"all 3 Toxocara species","type":"nominal","scale":{"range":["#222222"]},"legend":{"orient":"none","legendX":355,"legendY":46,"title":null,"symbolType":"stroke","symbolSize":200,"symbolStrokeWidth":2}}}}
 ]
}
],"spacing":42,"bounds":"flush","resolve":{"scale":{"color":"independent","shape":"independent"},"legend":{"color":"independent","shape":"independent"}}},
{"vconcat":[
{"width":528,"height":89,"data":{"name":"none"},"mark":{"type":"point","opacity":0},"encoding":{}},
{"width":528,"height":233,
 "title":{"text":"iv. Contracaecum","fontStyle":"italic","dx":8,"offset":0},
 "layer":[
  {"data":{"name":"giv"},"transform":[{"filter":"datum.t=='b'"}],"mark":{"type":"rect","color":"#111"},"encoding":{"x":{"field":"s","type":"quantitative","title":null,"scale":{"domain":[0,16000]}},"x2":{"field":"e"},"y":{"datum":0.514,"type":"quantitative","scale":{"domain":[0,0.5],"nice":false}},"y2":{"datum":0.522}}},
  {"data":{"name":"giv"},"transform":[{"filter":"datum.t=='p'||datum.t=='r'"}],"mark":{"type":"rect","stroke":"#555","strokeWidth":0.7},"encoding":{"x":{"field":"s","type":"quantitative","title":null,"scale":{"domain":[0,16000]}},"x2":{"field":"e"},"y":{"datum":0.5105,"type":"quantitative","scale":{"domain":[0,0.5],"nice":false}},"y2":{"datum":0.5255},"fill":{"condition":{"test":"datum.t=='r'","value":"#9a9a9a"},"value":"#ffffff"}}},
  {"data":{"name":"giv"},"transform":[{"filter":"datum.t=='p'||datum.t=='r'"}],"mark":{"type":"point","shape":"triangle-right","size":40,"filled":true,"stroke":"#555","strokeWidth":0.7,"opacity":1},"encoding":{"x":{"field":"e","type":"quantitative","title":null,"scale":{"domain":[0,16000]}},"y":{"datum":0.518,"type":"quantitative","scale":{"domain":[0,0.5],"nice":false}},"fill":{"condition":{"test":"datum.t=='r'","value":"#9a9a9a"},"value":"#ffffff"}}},
  {"data":{"name":"giv"},"transform":[{"filter":"datum.t!='b'&&datum.t!='a'&&datum.g!='nad4L'"}],"mark":{"type":"text","font":"Open Sans","fontSize":6,"fontStyle":"italic","color":"#555","baseline":"top"},"encoding":{"x":{"field":"m","type":"quantitative","title":null,"scale":{"domain":[0,16000]}},"y":{"datum":0.506,"type":"quantitative","scale":{"domain":[0,0.5],"nice":false}},"text":{"field":"g"}}},
  {"data":{"name":"giv"},"transform":[{"filter":"datum.t=='a'||datum.g=='nad4L'"}],"mark":{"type":"text","font":"Open Sans","fontSize":6,"fontStyle":"italic","color":"#555","baseline":"bottom"},"encoding":{"x":{"field":"m","type":"quantitative","title":null,"scale":{"domain":[0,16000]}},"y":{"datum":0.5275,"type":"quantitative","scale":{"domain":[0,0.5],"nice":false}},"text":{"field":"g"}}},
  {"data":{"name":"con"},"mark":{"type":"line","strokeWidth":1.1},"encoding":{"x":{"field":"x","type":"quantitative","title":null,"scale":{"domain":[0,16000]},"axis":{"values":[0,2000,4000,6000,8000,10000,12000,14000,16000],"format":"d"}},"y":{"field":"y","type":"quantitative","title":null,"scale":{"domain":[0,0.5],"nice":false},"axis":{"values":[0,0.1,0.2,0.3,0.4,0.5],"format":"~g"}},"color":{"datum":"Contracaecum osculatum v C. rudolphi","type":"nominal","scale":{"range":["#333333"]},"legend":{"orient":"none","legendX":341,"legendY":60,"title":null,"symbolType":"stroke","symbolSize":200,"symbolStrokeWidth":2}}}}
 ]
},
{"width":528,"height":234,
 "title":{"text":"v. Anisakis and Anisakidae","fontStyle":"normal","dx":8,"offset":-9},
 "resolve":{"scale":{"color":"independent"}},
 "layer":[
  {"data":{"name":"gv"},"transform":[{"filter":"datum.t=='b'"}],"mark":{"type":"rect","color":"#111"},"encoding":{"x":{"field":"s","type":"quantitative","title":null,"scale":{"domain":[0,16000]}},"x2":{"field":"e"},"y":{"datum":0.441,"type":"quantitative","scale":{"domain":[0,0.5],"nice":false}},"y2":{"datum":0.449}}},
  {"data":{"name":"gv"},"transform":[{"filter":"datum.t=='p'||datum.t=='r'"}],"mark":{"type":"rect","stroke":"#555","strokeWidth":0.7},"encoding":{"x":{"field":"s","type":"quantitative","title":null,"scale":{"domain":[0,16000]}},"x2":{"field":"e"},"y":{"datum":0.4375,"type":"quantitative","scale":{"domain":[0,0.5],"nice":false}},"y2":{"datum":0.4525},"fill":{"condition":{"test":"datum.t=='r'","value":"#9a9a9a"},"value":"#ffffff"}}},
  {"data":{"name":"gv"},"transform":[{"filter":"datum.t=='p'||datum.t=='r'"}],"mark":{"type":"point","shape":"triangle-right","size":40,"filled":true,"stroke":"#555","strokeWidth":0.7,"opacity":1},"encoding":{"x":{"field":"e","type":"quantitative","title":null,"scale":{"domain":[0,16000]}},"y":{"datum":0.445,"type":"quantitative","scale":{"domain":[0,0.5],"nice":false}},"fill":{"condition":{"test":"datum.t=='r'","value":"#9a9a9a"},"value":"#ffffff"}}},
  {"data":{"name":"gv"},"transform":[{"filter":"datum.t!='b'&&datum.t!='a'&&datum.g!='nad4L'"}],"mark":{"type":"text","font":"Open Sans","fontSize":6,"fontStyle":"italic","color":"#555","baseline":"top"},"encoding":{"x":{"field":"m","type":"quantitative","title":null,"scale":{"domain":[0,16000]}},"y":{"datum":0.433,"type":"quantitative","scale":{"domain":[0,0.5],"nice":false}},"text":{"field":"g"}}},
  {"data":{"name":"gv"},"transform":[{"filter":"datum.t=='a'||datum.g=='nad4L'"}],"mark":{"type":"text","font":"Open Sans","fontSize":6,"fontStyle":"italic","color":"#555","baseline":"bottom"},"encoding":{"x":{"field":"m","type":"quantitative","title":null,"scale":{"domain":[0,16000]}},"y":{"datum":0.4545,"type":"quantitative","scale":{"domain":[0,0.5],"nice":false}},"text":{"field":"g"}}},
  {"data":{"name":"anig"},"mark":{"type":"line","strokeWidth":1.1},"encoding":{"x":{"field":"x","type":"quantitative","title":null,"scale":{"domain":[0,16000]},"axis":{"values":[0,2000,4000,6000,8000,10000,12000,14000,16000],"format":"d"}},"y":{"field":"y","type":"quantitative","title":null,"scale":{"domain":[0,0.5],"nice":false},"axis":{"values":[0,0.1,0.2,0.3,0.4,0.5],"format":"~g"}},"color":{"datum":"All anisakids","type":"nominal","scale":{"range":["#8a8a8a"]},"legend":{"orient":"none","legendX":345,"legendY":54,"title":null,"symbolType":"stroke","symbolSize":200,"symbolStrokeWidth":2,"labelColor":"#8a8a8a","labelFontStyle":"normal","labelExpr":"['All anisakids','Anisakis simplex v Contracaecum spp.']"}}}},
  {"data":{"name":"anik"},"mark":{"type":"line","strokeWidth":1.1},"encoding":{"x":{"field":"x","type":"quantitative","title":null,"scale":{"domain":[0,16000]}},"y":{"field":"y","type":"quantitative","title":null,"scale":{"domain":[0,0.5],"nice":false}},"color":{"datum":"Anisakis simplex : s.l. v s.s.","type":"nominal","scale":{"range":["#222222"]},"legend":{"orient":"none","legendX":343,"legendY":181,"title":null,"symbolType":"stroke","symbolSize":200,"symbolStrokeWidth":2}}}}
 ]
}
],"spacing":45,"bounds":"flush","resolve":{"scale":{"color":"independent","shape":"independent"},"legend":{"color":"independent","shape":"independent"}}}
],
"config":{
 "view":{"stroke":null},
 "font":"Open Sans",
 "axis":{"domainColor":"#222","domainWidth":1.8,"tickColor":"#222","tickSize":3,"tickWidth":1.2,"labelFont":"Open Sans","labelFontSize":8,"labelColor":"#444","grid":false,"labelPadding":2},
 "title":{"font":"Open Sans","fontSize":19,"fontWeight":"normal","color":"#333","anchor":"start","frame":"group"},
 "legend":{"labelFont":"Open Sans","labelFontSize":10,"labelFontStyle":"italic","labelColor":"#333","labelLimit":0,"symbolStrokeWidth":1.5,"rowPadding":2,"padding":0}
}
}
